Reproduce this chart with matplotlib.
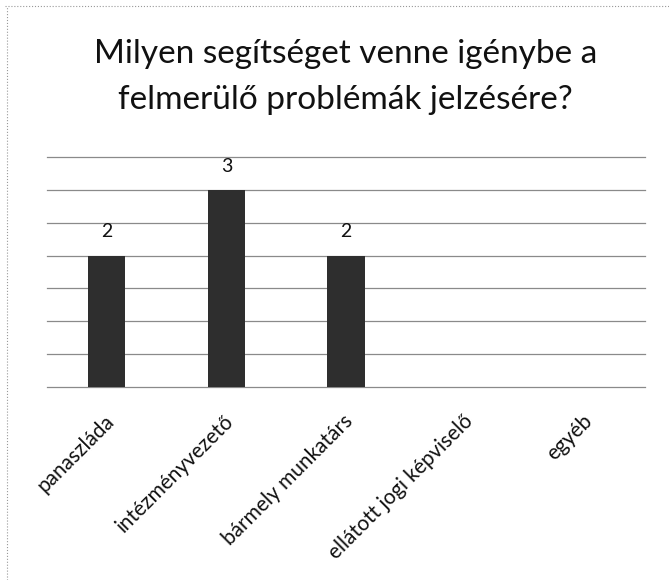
import matplotlib
matplotlib.use('Agg')
import matplotlib.pyplot as plt
import matplotlib.transforms as mtransforms
from matplotlib.lines import Line2D

# adatok
categories = ['panaszláda', 'intézményvezető', 'bármely munkatárs',
              'ellátott jogi képviselő', 'egyéb']
values = [2, 3, 2, 0, 0]
title = 'Milyen segítséget venne igénybe a\nfelmerülő problémák jelzésére?'

plt.rcParams['font.family'] = ['Lato', 'DejaVu Sans']

fig = plt.figure(figsize=(6.69, 5.80), dpi=100)
ax = fig.add_axes([47 / 669, 1 - 387 / 580, (645 - 47) / 669, (387 - 157) / 580])

x = list(range(len(categories)))
bars = ax.bar(x, values, width=0.31, color='#2e2e2e', zorder=3)

# adatfeliratok (csak a nem nulla oszlopokra)
for b, v in zip(bars, values):
    if v > 0:
        ax.annotate(str(v), (b.get_x() + b.get_width() / 2, v),
                    xytext=(0, 11), textcoords='offset points',
                    ha='center', va='bottom', fontsize=14, color='#111111')

ax.set_xlim(-0.5, len(categories) - 0.5)
ax.set_ylim(0, 3.5)
ax.set_yticks([i * 0.5 for i in range(8)])
ax.yaxis.grid(True, color='#8a8a8a', linewidth=0.9, zorder=0)
for gl in ax.get_ygridlines():
    gl.set_clip_on(False)
ax.tick_params(axis='y', left=False, labelleft=False)
ax.tick_params(axis='x', length=0, pad=0)
for s in ax.spines.values():
    s.set_visible(False)

ax.set_xticks(x)
ax.set_xticklabels(categories, rotation=45, ha='right', va='top',
                   rotation_mode='anchor', fontsize=15, color='#111111')
offset = mtransforms.ScaledTranslation(-3 / 100, -24 / 100, fig.dpi_scale_trans)
for lbl in ax.get_xticklabels():
    lbl.set_transform(lbl.get_transform() + offset)

fig.text(0.517, 1 - 77 / 580, title, ha='center', va='center',
         fontsize=24, linespacing=1.64, color='#111111')

# szkennelt keret (bal és felső szegély)
fig.add_artist(Line2D([5 / 669, 1], [1 - 6 / 580, 1 - 6 / 580],
                      transform=fig.transFigure, color='#999999', lw=0.8, ls=':'))
fig.add_artist(Line2D([7 / 669, 7 / 669], [0, 1 - 6 / 580],
                      transform=fig.transFigure, color='#999999', lw=0.8, ls=':'))

fig.savefig('out.png', dpi=100, facecolor='white')
